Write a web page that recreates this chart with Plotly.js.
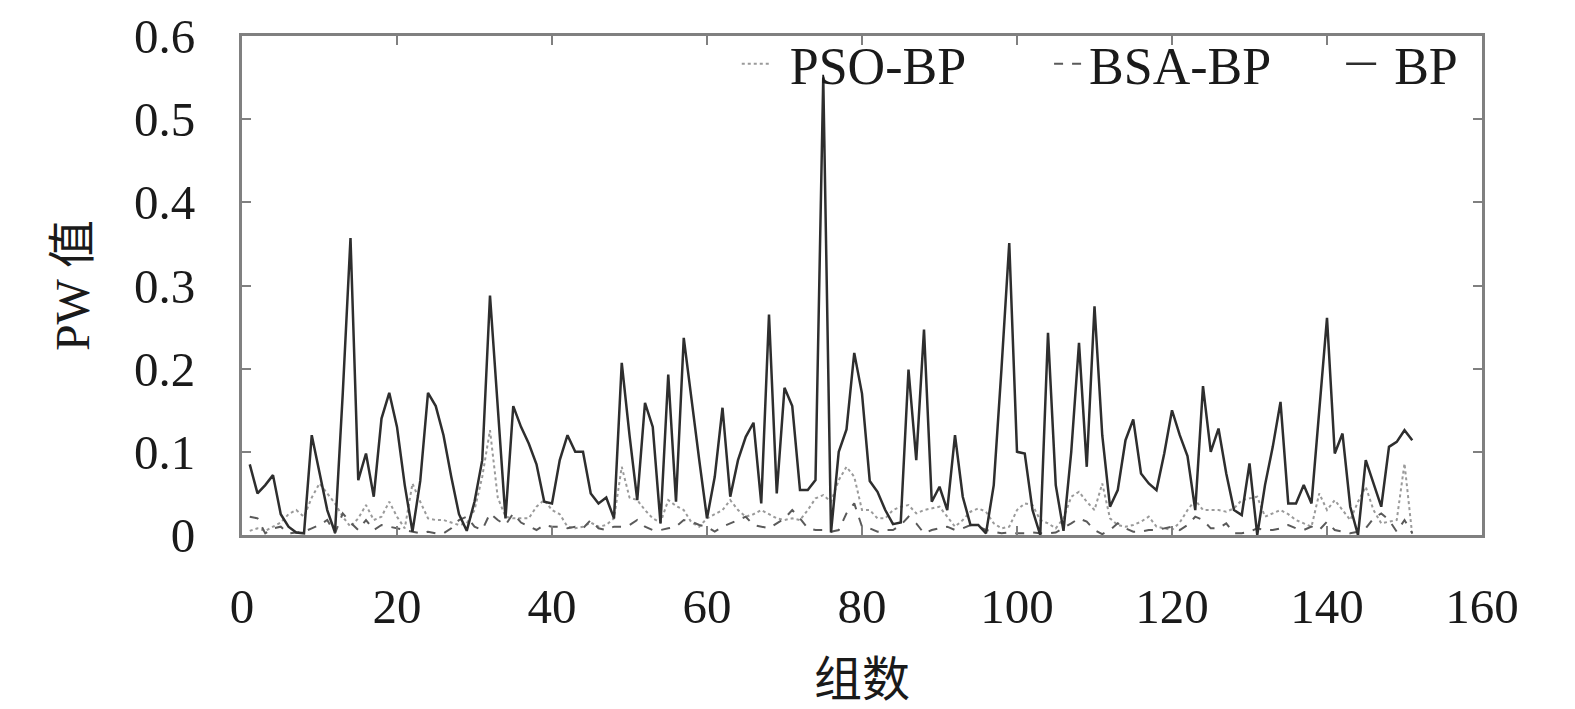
<!DOCTYPE html>
<html>
<head>
<meta charset="utf-8">
<script src="https://cdn.plot.ly/plotly-3.0.1.min.js"></script>
<style>
  html, body { margin: 0; padding: 0; background: #fff; }
  #chart { width: 1575px; height: 709px; }
</style>
</head>
<body>
<div id="chart"></div>
<script>
// PW values per group (1..151)
var bp = [
  0.085, 0.05, 0.06, 0.072, 0.025, 0.01, 0.003, 0.002, 0.12, 0.075,
  0.03, 0.003, 0.17, 0.357, 0.066, 0.098, 0.046, 0.14, 0.171, 0.13,
  0.06, 0.004, 0.065, 0.171, 0.155, 0.12, 0.07, 0.025, 0.005, 0.04,
  0.09, 0.288, 0.15, 0.02, 0.155, 0.13, 0.11, 0.085, 0.04, 0.038,
  0.09, 0.12, 0.10, 0.10, 0.05, 0.038, 0.045, 0.02, 0.207, 0.12,
  0.042, 0.159, 0.13, 0.014, 0.193, 0.04, 0.237, 0.16, 0.09, 0.02,
  0.07, 0.153, 0.046, 0.09, 0.118, 0.135, 0.038, 0.265, 0.05, 0.177,
  0.155, 0.054, 0.054, 0.066, 0.55, 0.003, 0.10, 0.127, 0.219, 0.17,
  0.065, 0.052, 0.03, 0.013, 0.015, 0.199, 0.09, 0.247, 0.04, 0.058,
  0.03, 0.12, 0.046, 0.012, 0.012, 0.002, 0.06, 0.2, 0.351, 0.10,
  0.098, 0.03, 0.0, 0.243, 0.06, 0.005, 0.1, 0.231, 0.082, 0.275,
  0.12, 0.034, 0.054, 0.114, 0.139, 0.074, 0.062, 0.054, 0.098, 0.15,
  0.12, 0.095, 0.03, 0.179, 0.10, 0.128, 0.074, 0.03, 0.024, 0.086,
  0.0, 0.06, 0.106, 0.16, 0.038, 0.038, 0.06, 0.038, 0.15, 0.261,
  0.098, 0.122, 0.034, 0.0, 0.09, 0.062, 0.034, 0.106, 0.112, 0.126,
  0.114
];

var psoBp = [
  0.005, 0.008, 0.005, 0.01, 0.015, 0.025, 0.03, 0.022, 0.045, 0.062,
  0.05, 0.038, 0.022, 0.01, 0.02, 0.036, 0.018, 0.022, 0.04, 0.022,
  0.008, 0.062, 0.04, 0.02, 0.018, 0.018, 0.015, 0.012, 0.014, 0.03,
  0.07, 0.126, 0.045, 0.022, 0.02, 0.02, 0.02, 0.034, 0.042, 0.03,
  0.025, 0.01, 0.008, 0.01, 0.015, 0.01, 0.012, 0.02, 0.082, 0.045,
  0.042, 0.03, 0.02, 0.015, 0.042, 0.035, 0.03, 0.015, 0.01, 0.02,
  0.025, 0.03, 0.042, 0.03, 0.022, 0.025, 0.03, 0.025, 0.02, 0.018,
  0.02, 0.018, 0.03, 0.044, 0.048, 0.04, 0.066, 0.082, 0.07, 0.03,
  0.03, 0.02, 0.02, 0.03, 0.034, 0.036, 0.026, 0.03, 0.032, 0.034,
  0.022, 0.01, 0.018, 0.028, 0.032, 0.028, 0.014, 0.008, 0.01, 0.03,
  0.038, 0.036, 0.018, 0.014, 0.008, 0.02, 0.046, 0.052, 0.04, 0.03,
  0.062, 0.02, 0.012, 0.01, 0.012, 0.016, 0.022, 0.01, 0.008, 0.006,
  0.015, 0.03, 0.042, 0.03, 0.03, 0.03, 0.028, 0.032, 0.042, 0.044,
  0.046, 0.022, 0.026, 0.03, 0.025, 0.018, 0.014, 0.01, 0.05, 0.03,
  0.042, 0.03, 0.018, 0.04, 0.058, 0.03, 0.014, 0.016, 0.018, 0.086,
  0.0
];

var bsaBp = [
  0.022, 0.02, 0.002, 0.008, 0.01, 0.002, 0.003, 0.004, 0.008, 0.012,
  0.018, 0.002, 0.026, 0.015, 0.006, 0.018, 0.006, 0.012, 0.01, 0.008,
  0.006, 0.004, 0.002, 0.004, 0.002, 0.002, 0.008, 0.018, 0.022, 0.01,
  0.006, 0.026, 0.018, 0.012, 0.026, 0.015, 0.01, 0.006, 0.012, 0.01,
  0.01, 0.008, 0.01, 0.008, 0.018, 0.008, 0.006, 0.01, 0.01, 0.012,
  0.018, 0.01, 0.006, 0.006, 0.008, 0.01, 0.018, 0.016, 0.012, 0.01,
  0.004, 0.01, 0.014, 0.018, 0.022, 0.012, 0.01, 0.008, 0.014, 0.02,
  0.03, 0.02, 0.008, 0.006, 0.006, 0.004, 0.006, 0.026, 0.038, 0.01,
  0.008, 0.004, 0.006, 0.006, 0.012, 0.022, 0.014, 0.002, 0.006, 0.008,
  0.01, 0.006, 0.008, 0.012, 0.01, 0.006, 0.004, 0.002, 0.003, 0.002,
  0.002, 0.003, 0.002, 0.002, 0.003, 0.008, 0.014, 0.02, 0.016, 0.006,
  0.001, 0.006, 0.014, 0.008, 0.004, 0.004, 0.006, 0.006, 0.008, 0.01,
  0.006, 0.012, 0.022, 0.018, 0.008, 0.008, 0.014, 0.002, 0.002, 0.004,
  0.008, 0.006, 0.006, 0.008, 0.012, 0.008, 0.006, 0.01, 0.006, 0.016,
  0.006, 0.004, 0.002, 0.004, 0.008, 0.02, 0.026, 0.018, 0.004, 0.018,
  0.002
];

var groups = bp.map(function (v, i) { return i + 1; });

var serif = 'Liberation Serif, Times New Roman, serif';
var cjk = 'Liberation Serif, Noto Sans CJK SC, serif';
// non-breaking spaces spread the legend entries out like the original
var sp = function (n) { return new Array(n + 1).join('\u00a0'); };

var data = [
  {
    x: groups, y: psoBp, name: sp(1) + 'PSO-BP' + sp(6), type: 'scatter', mode: 'lines',
    line: { color: '#9a9a9a', width: 2, dash: 'dot' }
  },
  {
    x: groups, y: bsaBp, name: 'BSA-BP' + sp(5), type: 'scatter', mode: 'lines',
    line: { color: '#5a5a5a', width: 2, dash: 'dash' }
  },
  {
    x: groups, y: bp, name: sp(1) + 'BP', type: 'scatter', mode: 'lines',
    line: { color: '#2e2e2e', width: 2.5 }
  }
];

var axisCommon = {
  showgrid: false,
  zeroline: false,
  showline: true,
  linecolor: '#808080',
  linewidth: 3,
  mirror: 'ticks',
  ticks: 'inside',
  ticklen: 9,
  tickwidth: 2,
  tickcolor: '#808080',
  tickfont: { family: serif, size: 49, color: '#1a1a1a' }
};

var layout = {
  width: 1575,
  height: 709,
  margin: { l: 242, r: 93, t: 36, b: 174 },
  paper_bgcolor: '#fff',
  plot_bgcolor: '#fff',
  showlegend: true,
  legend: {
    orientation: 'h',
    x: 0.399, xanchor: 'left',
    y: 1.025, yanchor: 'top',
    bgcolor: 'rgba(0,0,0,0)',
    font: { family: serif, size: 52, color: '#1a1a1a' }
  },
  xaxis: Object.assign({}, axisCommon, {
    range: [0, 160],
    dtick: 20,
    ticklabelstandoff: 26,
    title: { text: '组数', font: { family: cjk, size: 48, color: '#1a1a1a' }, standoff: 30 }
  }),
  yaxis: Object.assign({}, axisCommon, {
    range: [0, 0.6],
    dtick: 0.1,
    ticklabelstandoff: 34,
    title: { text: 'PW 值', font: { family: cjk, size: 48, color: '#1a1a1a' }, standoff: 30 }
  })
};

Plotly.newPlot('chart', data, layout, { displayModeBar: false, responsive: false });
</script>
</body>
</html>
